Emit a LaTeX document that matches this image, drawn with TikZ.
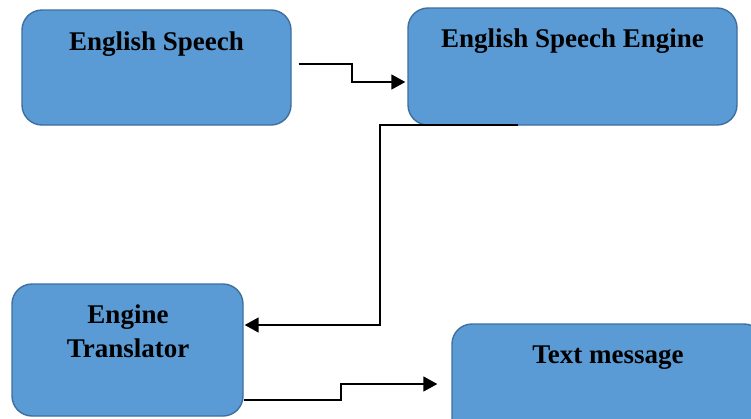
\documentclass[tikz,border=0pt]{standalone}
\usepackage{fontspec}
\setmainfont{Liberation Serif}
\usetikzlibrary{arrows.meta,calc}
\definecolor{boxfill}{HTML}{5B9BD5}
\definecolor{boxline}{HTML}{3D6F9F}
\begin{document}
\begin{tikzpicture}[x=1pt,y=-1pt,
  box/.style={draw=boxline, line width=1.4pt, fill=boxfill, rounded corners=20pt, inner sep=0pt},
  lbl/.style={font=\bfseries\fontsize{27}{34}\selectfont, inner sep=0pt, anchor=base, align=center, text=black},
  conn/.style={draw=black, line width=1.7pt, -{Triangle[length=14pt,width=15pt]}}]
\useasboundingbox (0,0) rectangle (751,418);
\clip (0,0) rectangle (751,418);
\node[box, minimum width=269pt, minimum height=115pt] (b1) at (156.5,67.5) {};
\node[box, minimum width=329pt, minimum height=117pt] (b2) at (572.5,66.5) {};
\node[box, minimum width=231pt, minimum height=132pt] (b3) at (127.5,350) {};
\node[box, minimum width=312pt, minimum height=116pt] (b4) at (608,382) {};
\node[lbl] (t1) at (156.5,50) {English Speech};
\node[lbl] (t2) at (572.5,47) {English Speech Engine};
\node[lbl] (t3) at (128,357) {Engine\\Translator};
\node[lbl] (t4) at (608,363) {Text message};
\coordinate (s1) at ([xshift=7pt,yshift=3.5pt]b1.east);
\draw[conn, shorten >=2pt] (s1) -- (352,64) -- (352,82) -- ([yshift=-15.5pt]b2.west);
\coordinate (s2) at ([xshift=-54.5pt,yshift=1pt]b2.south);
\coordinate (m2) at (s2 -| 380,0);
\draw[conn, shorten >=1pt] (s2) -- (m2) |- ([yshift=25pt]b3.east);
\coordinate (s3) at ([yshift=-50pt]b3.east);
\draw[conn, shorten >=14pt] (s3) -- (341,400) -- (341,384) -- ([yshift=-2pt]b4.west);
\end{tikzpicture}
\end{document}
